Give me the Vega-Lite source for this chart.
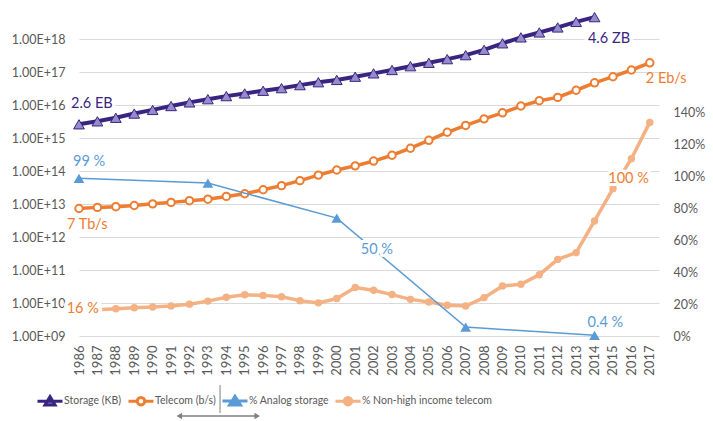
{
"$schema": "https://vega.github.io/schema/vega-lite/v6.json",
"width": 580, "height": 330,
"autosize": {"type": "none"},
"padding": {"left": 79, "top": 6, "right": 54, "bottom": 85},
"config": {
  "font": "Lato",
  "view": {"stroke": null},
  "axis": {"labelFont": "Lato", "labelColor": "#595959", "domain": false, "ticks": false, "title": null, "labelFontSize": 12}
},
"datasets": {"main": [
{"series":"Storage (KB)","year":1986,"value":2.6e15},
{"series":"Storage (KB)","year":1987,"value":3.2e15},
{"series":"Storage (KB)","year":1988,"value":4.1e15},
{"series":"Storage (KB)","year":1989,"value":5.5e15},
{"series":"Storage (KB)","year":1990,"value":7.1e15},
{"series":"Storage (KB)","year":1991,"value":9.3e15},
{"series":"Storage (KB)","year":1992,"value":1.2e16},
{"series":"Storage (KB)","year":1993,"value":1.5e16},
{"series":"Storage (KB)","year":1994,"value":1.86e16},
{"series":"Storage (KB)","year":1995,"value":2.24e16},
{"series":"Storage (KB)","year":1996,"value":2.7e16},
{"series":"Storage (KB)","year":1997,"value":3.24e16},
{"series":"Storage (KB)","year":1998,"value":4.0e16},
{"series":"Storage (KB)","year":1999,"value":4.9e16},
{"series":"Storage (KB)","year":2000,"value":5.75e16},
{"series":"Storage (KB)","year":2001,"value":7.2e16},
{"series":"Storage (KB)","year":2002,"value":9.1e16},
{"series":"Storage (KB)","year":2003,"value":1.15e17},
{"series":"Storage (KB)","year":2004,"value":1.5e17},
{"series":"Storage (KB)","year":2005,"value":1.9e17},
{"series":"Storage (KB)","year":2006,"value":2.45e17},
{"series":"Storage (KB)","year":2007,"value":3.24e17},
{"series":"Storage (KB)","year":2008,"value":4.7e17},
{"series":"Storage (KB)","year":2009,"value":7.4e17},
{"series":"Storage (KB)","year":2010,"value":1.12e18},
{"series":"Storage (KB)","year":2011,"value":1.58e18},
{"series":"Storage (KB)","year":2012,"value":2.24e18},
{"series":"Storage (KB)","year":2013,"value":3.3e18},
{"series":"Storage (KB)","year":2014,"value":4.6e18},
{"series":"Telecom (b/s)","year":1986,"value":7.3e12},
{"series":"Telecom (b/s)","year":1987,"value":7.9e12},
{"series":"Telecom (b/s)","year":1988,"value":8.3e12},
{"series":"Telecom (b/s)","year":1989,"value":9.0e12},
{"series":"Telecom (b/s)","year":1990,"value":1.01e13},
{"series":"Telecom (b/s)","year":1991,"value":1.12e13},
{"series":"Telecom (b/s)","year":1992,"value":1.26e13},
{"series":"Telecom (b/s)","year":1993,"value":1.4e13},
{"series":"Telecom (b/s)","year":1994,"value":1.7e13},
{"series":"Telecom (b/s)","year":1995,"value":2.05e13},
{"series":"Telecom (b/s)","year":1996,"value":2.7e13},
{"series":"Telecom (b/s)","year":1997,"value":3.6e13},
{"series":"Telecom (b/s)","year":1998,"value":5.1e13},
{"series":"Telecom (b/s)","year":1999,"value":7.5e13},
{"series":"Telecom (b/s)","year":2000,"value":1.07e14},
{"series":"Telecom (b/s)","year":2001,"value":1.43e14},
{"series":"Telecom (b/s)","year":2002,"value":2.0e14},
{"series":"Telecom (b/s)","year":2003,"value":3.0e14},
{"series":"Telecom (b/s)","year":2004,"value":4.9e14},
{"series":"Telecom (b/s)","year":2005,"value":8.5e14},
{"series":"Telecom (b/s)","year":2006,"value":1.49e15},
{"series":"Telecom (b/s)","year":2007,"value":2.4e15},
{"series":"Telecom (b/s)","year":2008,"value":3.8e15},
{"series":"Telecom (b/s)","year":2009,"value":5.8e15},
{"series":"Telecom (b/s)","year":2010,"value":9.3e15},
{"series":"Telecom (b/s)","year":2011,"value":1.35e16},
{"series":"Telecom (b/s)","year":2012,"value":1.7e16},
{"series":"Telecom (b/s)","year":2013,"value":2.8e16},
{"series":"Telecom (b/s)","year":2014,"value":4.7e16},
{"series":"Telecom (b/s)","year":2015,"value":7.2e16},
{"series":"Telecom (b/s)","year":2016,"value":1.15e17},
{"series":"Telecom (b/s)","year":2017,"value":1.9e17},
{"series":"% Analog storage","year":1986,"value":0.99},
{"series":"% Analog storage","year":1993,"value":0.96},
{"series":"% Analog storage","year":2000,"value":0.74},
{"series":"% Analog storage","year":2007,"value":0.056},
{"series":"% Analog storage","year":2014,"value":0.004},
{"series":"% Non-high income telecom","year":1986,"value":0.16},
{"series":"% Non-high income telecom","year":1987,"value":0.165},
{"series":"% Non-high income telecom","year":1988,"value":0.171},
{"series":"% Non-high income telecom","year":1989,"value":0.177},
{"series":"% Non-high income telecom","year":1990,"value":0.182},
{"series":"% Non-high income telecom","year":1991,"value":0.189},
{"series":"% Non-high income telecom","year":1992,"value":0.2},
{"series":"% Non-high income telecom","year":1993,"value":0.219},
{"series":"% Non-high income telecom","year":1994,"value":0.243},
{"series":"% Non-high income telecom","year":1995,"value":0.259},
{"series":"% Non-high income telecom","year":1996,"value":0.255},
{"series":"% Non-high income telecom","year":1997,"value":0.246},
{"series":"% Non-high income telecom","year":1998,"value":0.222},
{"series":"% Non-high income telecom","year":1999,"value":0.208},
{"series":"% Non-high income telecom","year":2000,"value":0.235},
{"series":"% Non-high income telecom","year":2001,"value":0.304},
{"series":"% Non-high income telecom","year":2002,"value":0.287},
{"series":"% Non-high income telecom","year":2003,"value":0.26},
{"series":"% Non-high income telecom","year":2004,"value":0.23},
{"series":"% Non-high income telecom","year":2005,"value":0.213},
{"series":"% Non-high income telecom","year":2006,"value":0.193},
{"series":"% Non-high income telecom","year":2007,"value":0.188},
{"series":"% Non-high income telecom","year":2008,"value":0.241},
{"series":"% Non-high income telecom","year":2009,"value":0.314},
{"series":"% Non-high income telecom","year":2010,"value":0.325},
{"series":"% Non-high income telecom","year":2011,"value":0.385},
{"series":"% Non-high income telecom","year":2012,"value":0.481},
{"series":"% Non-high income telecom","year":2013,"value":0.523},
{"series":"% Non-high income telecom","year":2014,"value":0.722},
{"series":"% Non-high income telecom","year":2015,"value":0.925},
{"series":"% Non-high income telecom","year":2016,"value":1.113},
{"series":"% Non-high income telecom","year":2017,"value":1.341}
]},
"data": {"name": "main"},
"encoding": {
  "x": {"field": "year", "type": "quantitative",
    "scale": {"domain": [1986, 2017.5], "nice": false, "zero": false},
    "axis": {"values": [1986,1987,1988,1989,1990,1991,1992,1993,1994,1995,1996,1997,1998,1999,2000,2001,2002,2003,2004,2005,2006,2007,2008,2009,2010,2011,2012,2013,2014,2015,2016,2017],
      "format": "d", "labelAngle": 270, "labelPadding": 9, "grid": false, "labelFlush": false, "labelOverlap": false, "labelFontSize": 13}}
},
"layer": [
  {
    "encoding": {"y": {"field": "value", "type": "quantitative",
      "scale": {"type": "log", "domain": [1e9, 1e19], "nice": false},
      "axis": {"orient": "left", "values": [1e9,1e10,1e11,1e12,1e13,1e14,1e15,1e16,1e17,1e18],
        "labelExpr": "'1.00E+' + (round(log(datum.value)/LN10) < 10 ? '0' : '') + round(log(datum.value)/LN10)",
        "grid": true, "gridColor": "#D9D9D9", "gridWidth": 1, "labelPadding": 14, "labelFontSize": 12.5}}},
    "layer": [
      {"transform": [{"filter": "datum.series === 'Storage (KB)'"}],
       "mark": {"type": "line", "color": "#3B2480", "strokeWidth": 4}},
      {"transform": [{"filter": "datum.series === 'Storage (KB)'"}],
       "mark": {"type": "point", "shape": "triangle-up", "filled": true, "fill": "#958DCB", "stroke": "#3B2480", "strokeWidth": 1, "size": 115, "opacity": 1}},
      {"transform": [{"filter": "datum.series === 'Telecom (b/s)'"}],
       "mark": {"type": "line", "color": "#ED7D31", "strokeWidth": 3.5}},
      {"transform": [{"filter": "datum.series === 'Telecom (b/s)'"}],
       "mark": {"type": "point", "shape": "circle", "filled": true, "fill": "#FFFFFF", "stroke": "#ED7D31", "strokeWidth": 2, "size": 55, "opacity": 1}},
      {"transform": [{"filter": "datum.year === 1986"}],
       "mark": {"type": "point", "opacity": 0},
       "encoding": {
         "shape": {"field": "series", "type": "nominal",
           "scale": {"domain": ["Storage (KB)", "Telecom (b/s)", "% Analog storage", "% Non-high income telecom"],
             "range": ["M-1,0H1M0,-0.36L0.4,0.3H-0.4Z", "M-1,0H-0.3M0.3,0H1M-0.3,0A0.3,0.3,0,1,1,0.3,0A0.3,0.3,0,1,1,-0.3,0Z", "M-1,0H1M0,-0.38L0.44,0.32H-0.44Z", "M-1,0H1M-0.3,0A0.3,0.3,0,1,1,0.3,0A0.3,0.3,0,1,1,-0.3,0Z"]},
           "legend": {"title": null, "orient": "none", "legendX": -43, "legendY": 381, "direction": "horizontal", "columns": 4, "symbolSize": 625, "symbolStrokeWidth": 3, "symbolOpacity": 1, "labelFontSize": 10.5, "labelFont": "Lato", "labelColor": "#595959", "labelOffset": 0, "columnPadding": 0}},
         "fill": {"field": "series", "type": "nominal",
           "scale": {"domain": ["Storage (KB)", "Telecom (b/s)", "% Analog storage", "% Non-high income telecom"],
             "range": ["#958DCB", "#FFFFFF", "#5B9BD5", "#F4B183"]},
           "legend": {"title": null, "orient": "none", "legendX": -43, "legendY": 381, "direction": "horizontal", "columns": 4, "symbolSize": 625, "symbolStrokeWidth": 3, "symbolOpacity": 1, "labelFontSize": 10.5, "labelFont": "Lato", "labelColor": "#595959", "labelOffset": 0, "columnPadding": 0}},
         "stroke": {"field": "series", "type": "nominal",
           "scale": {"domain": ["Storage (KB)", "Telecom (b/s)", "% Analog storage", "% Non-high income telecom"],
             "range": ["#3B2480", "#ED7D31", "#5B9BD5", "#F4B183"]},
           "legend": {"title": null, "orient": "none", "legendX": -43, "legendY": 381, "direction": "horizontal", "columns": 4, "symbolSize": 625, "symbolStrokeWidth": 3, "symbolOpacity": 1, "labelFontSize": 10.5, "labelFont": "Lato", "labelColor": "#595959", "labelOffset": 0, "columnPadding": 0}}
       }},
      {"transform": [{"filter": "datum.series === 'Storage (KB)' && datum.year === 1986"}],
       "mark": {"type": "text", "text": "2.6 EB", "align": "left", "baseline": "middle", "dx": -8, "dy": -20, "fontSize": 14.5, "stroke": "#FFFFFF", "strokeWidth": 6, "strokeJoin": "round", "fill": "#FFFFFF"}},
      {"transform": [{"filter": "datum.series === 'Storage (KB)' && datum.year === 1986"}],
       "mark": {"type": "text", "text": "2.6 EB", "align": "left", "baseline": "middle", "dx": -8, "dy": -20, "fontSize": 14.5, "fill": "#3B2480"}},
      {"transform": [{"filter": "datum.series === 'Storage (KB)' && datum.year === 2014"}],
       "mark": {"type": "text", "text": "4.6 ZB", "align": "left", "baseline": "middle", "dx": -6.6, "dy": 22, "fontSize": 14.5, "stroke": "#FFFFFF", "strokeWidth": 7, "strokeJoin": "round", "fill": "#FFFFFF"}},
      {"transform": [{"filter": "datum.series === 'Storage (KB)' && datum.year === 2014"}],
       "mark": {"type": "text", "text": "4.6 ZB", "align": "left", "baseline": "middle", "dx": -6.6, "dy": 22, "fontSize": 14.5, "fill": "#3B2480"}},
      {"transform": [{"filter": "datum.series === 'Telecom (b/s)' && datum.year === 2017"}],
       "mark": {"type": "text", "text": "2 Eb/s", "align": "left", "baseline": "middle", "dx": -4, "dy": 16.6, "fontSize": 14.5, "fill": "#ED7D31"}},
      {"transform": [{"filter": "datum.series === 'Telecom (b/s)' && datum.year === 1986"}],
       "mark": {"type": "text", "text": "7 Tb/s", "align": "left", "baseline": "middle", "dx": -12, "dy": 16, "fontSize": 14.5, "fill": "#ED7D31"}},
      {"transform": [{"filter": "datum.series === 'Storage (KB)' && datum.year === 1986"}],
       "mark": {"type": "rule", "color": "#7F7F7F", "strokeWidth": 1, "clip": false},
       "encoding": {"x": {"datum": 1993.66}, "y": {"datum": 3.27e7}, "y2": {"datum": 4.64e6}}},
      {"transform": [{"filter": "datum.series === 'Storage (KB)' && datum.year === 1986"}],
       "mark": {"type": "rule", "color": "#7F7F7F", "strokeWidth": 1.5, "clip": false},
       "encoding": {"x": {"datum": 1991.5}, "x2": {"datum": 1995.6}, "y": {"datum": 3.77e6}}},
      {"transform": [{"filter": "datum.series === 'Storage (KB)' && datum.year === 1986"}],
       "mark": {"type": "point", "shape": "triangle-left", "filled": true, "color": "#7F7F7F", "size": 40, "opacity": 1, "clip": false},
       "encoding": {"x": {"datum": 1991.45}, "y": {"datum": 3.77e6}}},
      {"transform": [{"filter": "datum.series === 'Storage (KB)' && datum.year === 1986"}],
       "mark": {"type": "point", "shape": "triangle-right", "filled": true, "color": "#7F7F7F", "size": 40, "opacity": 1, "clip": false},
       "encoding": {"x": {"datum": 1995.68}, "y": {"datum": 3.77e6}}}
    ]
  },
  {
    "encoding": {"y": {"field": "value", "type": "quantitative",
      "scale": {"domain": [0, 2.0716], "nice": false, "zero": false},
      "axis": {"orient": "right", "values": [0, 0.2, 0.4, 0.6, 0.8, 1.0, 1.2, 1.4], "format": ".0%", "grid": false, "labelPadding": 14, "labelFontSize": 12.5}}},
    "layer": [
      {"transform": [{"filter": "datum.series === '% Non-high income telecom'"}],
       "mark": {"type": "line", "color": "#F4B183", "strokeWidth": 3.5}},
      {"transform": [{"filter": "datum.series === '% Non-high income telecom'"}],
       "mark": {"type": "point", "shape": "circle", "filled": true, "color": "#F4B183", "size": 55, "opacity": 1}},
      {"transform": [{"filter": "datum.series === '% Analog storage'"}],
       "mark": {"type": "line", "color": "#5B9BD5", "strokeWidth": 1.5}},
      {"transform": [{"filter": "datum.series === '% Analog storage'"}],
       "mark": {"type": "point", "shape": "triangle-up", "filled": true, "color": "#5B9BD5", "size": 115, "opacity": 1}},
      {"transform": [{"filter": "datum.series === '% Analog storage' && datum.year === 1986"}],
       "mark": {"type": "text", "text": "99 %", "align": "left", "baseline": "middle", "dx": -6, "dy": -16.6, "fontSize": 14.5, "fill": "#5B9BD5"}},
      {"transform": [{"filter": "datum.series === '% Analog storage' && datum.year === 2000"}],
       "mark": {"type": "text", "text": "50 %", "align": "left", "baseline": "middle", "dx": 24, "dy": 32, "fontSize": 14.5, "stroke": "#FFFFFF", "strokeWidth": 6, "strokeJoin": "round", "fill": "#FFFFFF"}},
      {"transform": [{"filter": "datum.series === '% Analog storage' && datum.year === 2000"}],
       "mark": {"type": "text", "text": "50 %", "align": "left", "baseline": "middle", "dx": 24, "dy": 32, "fontSize": 14.5, "fill": "#5B9BD5"}},
      {"transform": [{"filter": "datum.series === '% Analog storage' && datum.year === 2014"}],
       "mark": {"type": "text", "text": "0.4 %", "align": "left", "baseline": "middle", "dx": -7, "dy": -12.7, "fontSize": 14.5, "fill": "#5B9BD5"}},
      {"transform": [{"filter": "datum.series === '% Non-high income telecom' && datum.year === 1986"}],
       "mark": {"type": "text", "text": "16 %", "align": "left", "baseline": "middle", "dx": -12.3, "dy": -2, "fontSize": 14.5, "stroke": "#FFFFFF", "strokeWidth": 8, "strokeJoin": "round", "fill": "#FFFFFF"}},
      {"transform": [{"filter": "datum.series === '% Non-high income telecom' && datum.year === 1986"}],
       "mark": {"type": "text", "text": "16 %", "align": "left", "baseline": "middle", "dx": -12.3, "dy": -2, "fontSize": 14.5, "fill": "#ED7D31"}},
      {"transform": [{"filter": "datum.series === '% Non-high income telecom' && datum.year === 2015"}],
       "mark": {"type": "text", "text": "100 %", "align": "left", "baseline": "middle", "dx": -4.7, "dy": -10, "fontSize": 14.5, "stroke": "#FFFFFF", "strokeWidth": 6, "strokeJoin": "round", "fill": "#FFFFFF"}},
      {"transform": [{"filter": "datum.series === '% Non-high income telecom' && datum.year === 2015"}],
       "mark": {"type": "text", "text": "100 %", "align": "left", "baseline": "middle", "dx": -4.7, "dy": -10, "fontSize": 14.5, "fill": "#ED7D31"}}
    ]
  }
],
"resolve": {"scale": {"y": "independent"}}
}
